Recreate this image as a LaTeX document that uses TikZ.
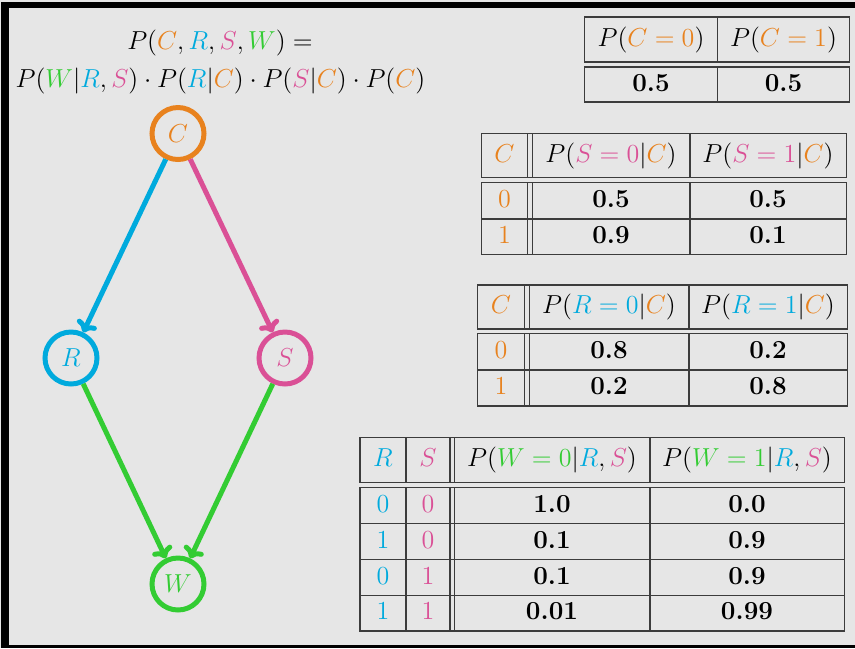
\documentclass[tikz,border=0pt,12pt]{standalone}
\usetikzlibrary{arrows.meta}
\definecolor{bgc}{HTML}{E6E6E6}
\definecolor{cor}{HTML}{E8821E}
\definecolor{cbl}{HTML}{00AADD}
\definecolor{cpk}{HTML}{DA5096}
\definecolor{cgr}{HTML}{33CC33}
\definecolor{tline}{HTML}{3C3C3C}
\begin{document}
\begin{tikzpicture}[x=0.4615pt,y=-0.4615pt,
  grid/.style={draw=tline,line width=0.7pt},
  cell/.style={inner sep=0pt,text height=.75em,text depth=.25em,anchor=center},
  var/.style={circle,draw=#1,text=#1,line width=2.3pt,minimum size=24pt,inner sep=0pt},
  arr/.style={draw=#1,line width=2.3pt,-{To[length=5pt,width=10pt]}}]
\useasboundingbox (0,0) rectangle (855,648);
\fill[bgc] (0,0) rectangle (855,648);
% black frame
\fill[black] (1,2) rectangle (855,8);
\fill[black] (1,2) rectangle (9,648);
\fill[black] (1,645) rectangle (855,648);
% formula
\node[anchor=base,inner sep=0pt] (f1) at (220,49) {$P(\textcolor{cor}{C},\textcolor{cbl}{R},\textcolor{cpk}{S},\textcolor{cgr}{W}) =$};
\node[anchor=base,inner sep=0pt] (f2) at (220.5,87) {$P(\textcolor{cgr}{W}|\textcolor{cbl}{R},\textcolor{cpk}{S})\cdot P(\textcolor{cbl}{R}|\textcolor{cor}{C})\cdot P(\textcolor{cpk}{S}|\textcolor{cor}{C})\cdot P(\textcolor{cor}{C})$};
% graph
\node[var=cor] (C) at (178,133.5) {$C$};
\node[var=cbl] (R) at (71,358) {$R$};
\node[var=cpk] (S) at (285,358) {$S$};
\node[var=cgr] (W) at (178,584) {$W$};
\draw[arr=cbl] (C) -- (R);
\draw[arr=cpk] (C) -- (S);
\draw[arr=cgr] (R) -- (W);
\draw[arr=cgr] (S) -- (W);
% table 1
\draw[grid] (584.5,17) rectangle (849.5,62) (717.5,17) -- (717.5,62);
\draw[grid] (584.5,67) rectangle (849.5,102) (717.5,67) -- (717.5,102);
\node[cell] (t1h1) at (651,39.5) {$P(\textcolor{cor}{C=0})$};
\node[cell] (t1h2) at (783.5,39.5) {$P(\textcolor{cor}{C=1})$};
\node[cell] (t1d1) at (651,84.5) {\textbf{0.5}};
\node[cell] (t1d2) at (783.5,84.5) {\textbf{0.5}};
% table 2
\draw[grid] (481.5,133.5) rectangle (846.5,177.5) (527.5,133.5) -- (527.5,177.5) (532.5,133.5) -- (532.5,177.5) (690,133.5) -- (690,177.5);
\draw[grid] (481.5,182.5) rectangle (846.5,254.5) (527.5,182.5) -- (527.5,254.5) (532.5,182.5) -- (532.5,254.5) (690,182.5) -- (690,254.5) (481.5,219) -- (846.5,219);
\node[cell] (t2h0) at (504.5,155.5) {$\textcolor{cor}{C}$};
\node[cell] (t2h1) at (611,155.5) {$P(\textcolor{cpk}{S=0}|\textcolor{cor}{C})$};
\node[cell] (t2h2) at (768,155.5) {$P(\textcolor{cpk}{S=1}|\textcolor{cor}{C})$};
\node[cell] (t2a0) at (504.5,200.75) {$\textcolor{cor}{0}$};
\node[cell] (t2a1) at (611,200.75) {\textbf{0.5}};
\node[cell] (t2a2) at (768,200.75) {\textbf{0.5}};
\node[cell] (t2b0) at (504.5,236.75) {$\textcolor{cor}{1}$};
\node[cell] (t2b1) at (611,236.75) {\textbf{0.9}};
\node[cell] (t2b2) at (768,236.75) {\textbf{0.1}};
% table 3
\draw[grid] (477.5,285) rectangle (847.5,329) (524.5,285) -- (524.5,329) (529.5,285) -- (529.5,329) (689,285) -- (689,329);
\draw[grid] (477.5,333.5) rectangle (847.5,406) (524.5,333.5) -- (524.5,406) (529.5,333.5) -- (529.5,406) (689,333.5) -- (689,406) (477.5,370) -- (847.5,370);
\node[cell] (t3h0) at (501,307) {$\textcolor{cor}{C}$};
\node[cell] (t3h1) at (609,307) {$P(\textcolor{cbl}{R=0}|\textcolor{cor}{C})$};
\node[cell] (t3h2) at (768,307) {$P(\textcolor{cbl}{R=1}|\textcolor{cor}{C})$};
\node[cell] (t3a0) at (501,351.75) {$\textcolor{cor}{0}$};
\node[cell] (t3a1) at (609,351.75) {\textbf{0.8}};
\node[cell] (t3a2) at (768,351.75) {\textbf{0.2}};
\node[cell] (t3b0) at (501,388) {$\textcolor{cor}{1}$};
\node[cell] (t3b1) at (609,388) {\textbf{0.2}};
\node[cell] (t3b2) at (768,388) {\textbf{0.8}};
% table 4
\draw[grid] (360,437.5) rectangle (844.5,482.5) (406,437.5) -- (406,482.5) (450,437.5) -- (450,482.5) (454.5,437.5) -- (454.5,482.5) (650,437.5) -- (650,482.5);
\draw[grid] (360,487.5) rectangle (844.5,631) (406,487.5) -- (406,631) (450,487.5) -- (450,631) (454.5,487.5) -- (454.5,631) (650,487.5) -- (650,631)
  (360,523.5) -- (844.5,523.5) (360,559.5) -- (844.5,559.5) (360,595.5) -- (844.5,595.5);
\node[cell] (t4h0) at (383,460) {$\textcolor{cbl}{R}$};
\node[cell] (t4h1) at (428,460) {$\textcolor{cpk}{S}$};
\node[cell] (t4h2) at (552,460) {$P(\textcolor{cgr}{W=0}|\textcolor{cbl}{R},\textcolor{cpk}{S})$};
\node[cell] (t4h3) at (747,460) {$P(\textcolor{cgr}{W=1}|\textcolor{cbl}{R},\textcolor{cpk}{S})$};
\node[cell] (t4a0) at (383,505.5) {$\textcolor{cbl}{0}$};
\node[cell] (t4a1) at (428,505.5) {$\textcolor{cpk}{0}$};
\node[cell] (t4a2) at (552,505.5) {\textbf{1.0}};
\node[cell] (t4a3) at (747,505.5) {\textbf{0.0}};
\node[cell] (t4b0) at (383,541.5) {$\textcolor{cbl}{1}$};
\node[cell] (t4b1) at (428,541.5) {$\textcolor{cpk}{0}$};
\node[cell] (t4b2) at (552,541.5) {\textbf{0.1}};
\node[cell] (t4b3) at (747,541.5) {\textbf{0.9}};
\node[cell] (t4c0) at (383,577.5) {$\textcolor{cbl}{0}$};
\node[cell] (t4c1) at (428,577.5) {$\textcolor{cpk}{1}$};
\node[cell] (t4c2) at (552,577.5) {\textbf{0.1}};
\node[cell] (t4c3) at (747,577.5) {\textbf{0.9}};
\node[cell] (t4d0) at (383,613.25) {$\textcolor{cbl}{1}$};
\node[cell] (t4d1) at (428,613.25) {$\textcolor{cpk}{1}$};
\node[cell] (t4d2) at (552,613.25) {\textbf{0.01}};
\node[cell] (t4d3) at (747,613.25) {\textbf{0.99}};
\end{tikzpicture}
\end{document}
